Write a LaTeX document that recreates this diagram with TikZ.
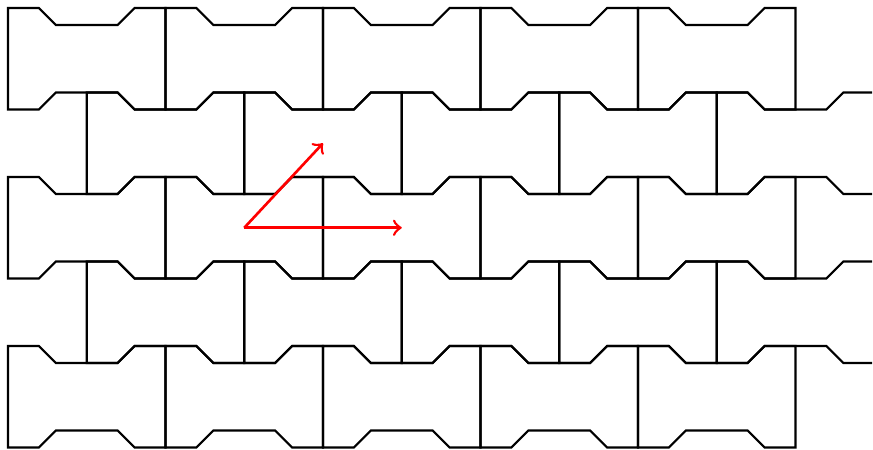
\documentclass[tikz,border=0pt]{standalone}
\usepackage{amssymb}
\usepackage{amsmath}
\usepackage{tikz}

\tikzset{
  paver/.pic={
    \draw (0, 0) -- (.309, 0) -- (.479, .17) -- (1.096, .17) -- (1.266, 0) -- (1.575, 0)
      -- (1.575, 1.015) -- (1.266, 1.015) -- (1.096, .845) -- (.479, .845) -- (.309, 1.015)
      -- (0, 1.015) -- cycle;
  }
}

\begin{document}
\begin{tikzpicture}[line width=.6pt, line join=miter]
\useasboundingbox (0, 0) rectangle (8.73, 4.49);
\begin{scope}
\clip (0, 0) rectangle (8.72, 4.49);
% straight rows
\foreach \y in {.015, 1.705, 3.395}
  \foreach \j in {0, ..., 4}
    \pic at ({.08 + 1.575*\j}, \y) {paver};
% shifted rows
\foreach \y in {.86, 2.55}
  \foreach \j in {0, ..., 4}
    \pic at ({.8675 + 1.575*\j}, \y) {paver};
\end{scope}
\coordinate (O) at (2.4425, 2.2125);
\coordinate (A) at (3.23, 3.0575);
\coordinate (B) at (4.0175, 2.2125);
\draw [->, >= to, red, line width=.75pt] (O) -- (A);
\draw [->, >= to, red, line width=.75pt] (O) -- (B);
\end{tikzpicture}
\end{document}
